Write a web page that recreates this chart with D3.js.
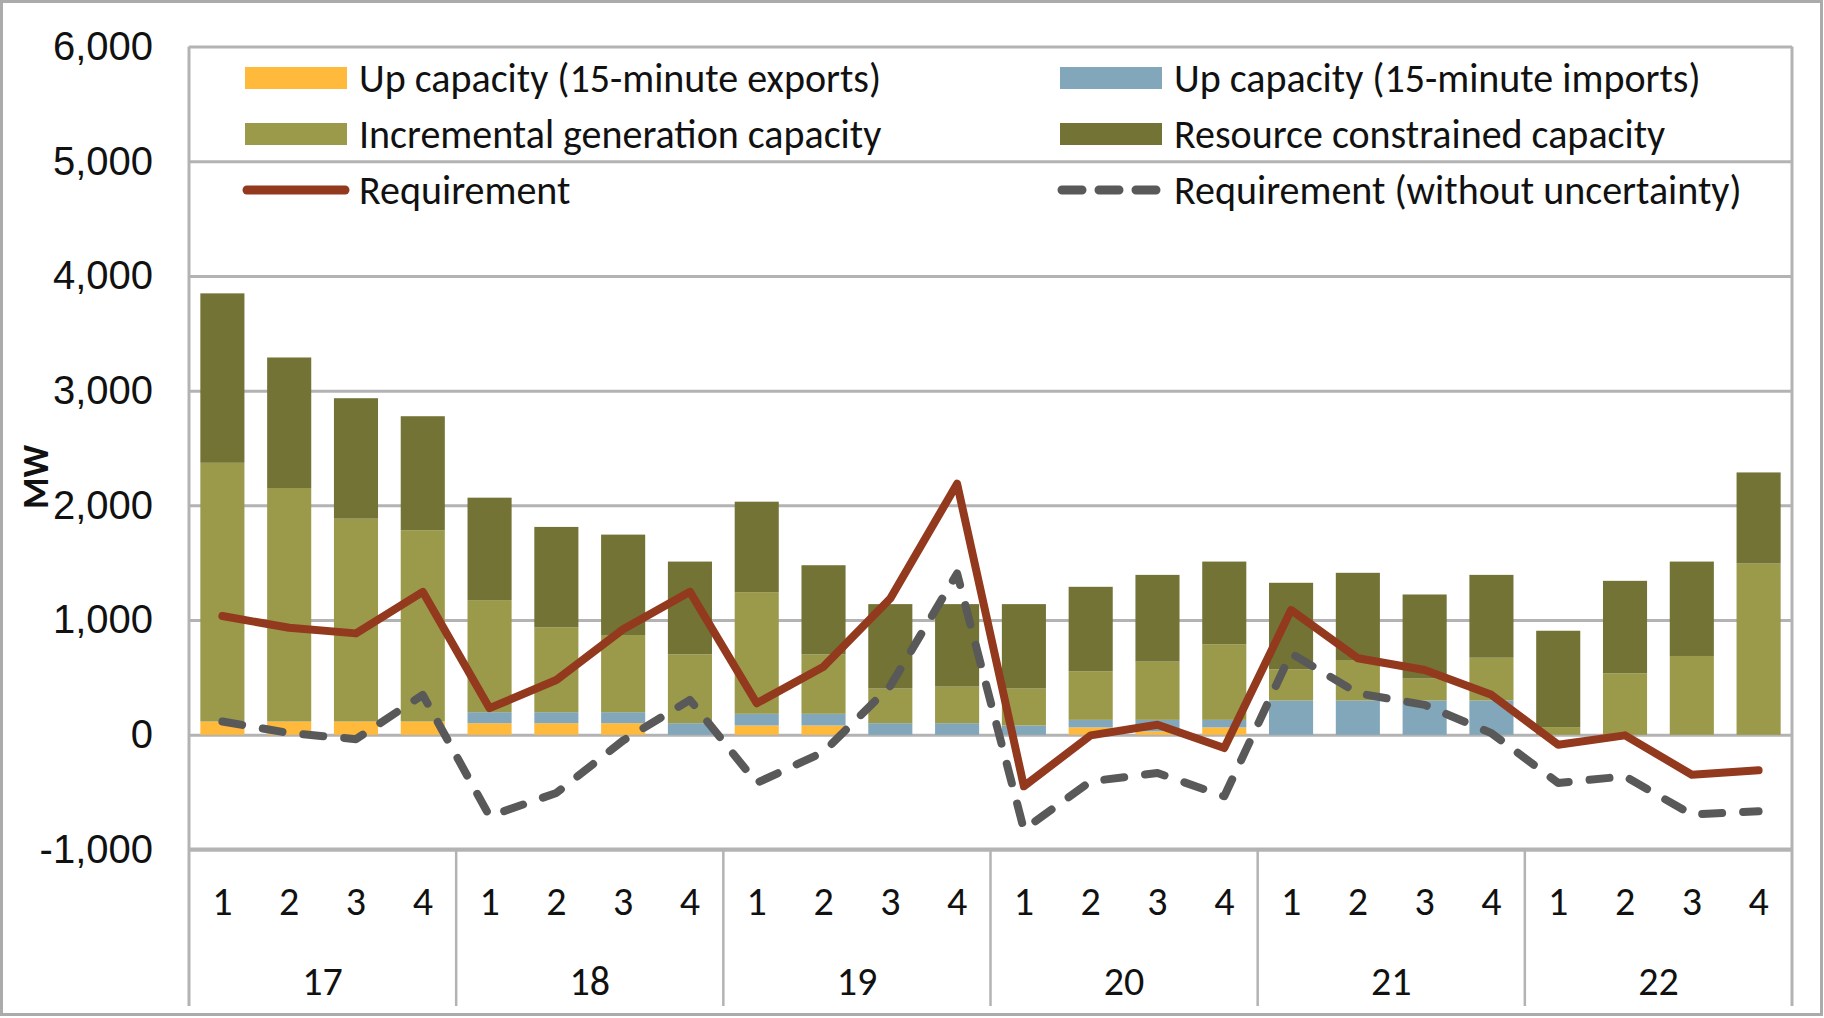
<!DOCTYPE html>
<html>
<head>
<meta charset="utf-8">
<script src="https://cdn.jsdelivr.net/npm/d3@7"></script>
<style>
  body { margin: 0; background: #fff; }
  svg { display: block; font-family: Carlito, "Liberation Sans Narrow", "DejaVu Sans Condensed", "Open Sans", sans-serif; }
</style>
</head>
<body>
<svg id="chart"></svg>
<script>
// quarters and years on the category axis
const years = ["17", "18", "19", "20", "21", "22"];
const quarters = ["1", "2", "3", "4"];

// stacked bar series (MW)
const exports15 = [116, 116, 116, 116, 101, 101, 101, 0, 81, 81, 0, 0, 0, 64, 30, 64, 0, 0, 0, 0, 0, 0, 0, 0];
const imports15 = [0, 0, 0, 0, 96, 96, 96, 101, 102, 102, 101, 101, 81, 66, 100, 66, 299, 299, 299, 299, 0, 0, 0, 0];
const incremental = [2255, 2035, 1768, 1667, 977, 739, 673, 600, 1060, 518, 302, 319, 322, 424, 508, 658, 272, 353, 191, 373, 67, 536, 687, 1493];
const constrained = [1477, 1138, 1050, 994, 893, 876, 875, 809, 789, 777, 736, 719, 736, 736, 756, 722, 754, 760, 733, 722, 840, 806, 823, 794];

// line series (MW)
const requirement = [1035, 933, 884, 1246, 232, 478, 920, 1246, 275, 594, 1188, 2188, -449, -5, 87, -116, 1087, 667, 565, 348, -87, -5, -348, -310];
const reqNoUncert = [116, 15, -38, 348, -710, -507, -50, 304, -420, -150, 426, 1406, -826, -406, -333, -536, 710, 362, 261, 14, -420, -362, -696, -667];

const yTicks = [-1000, 0, 1000, 2000, 3000, 4000, 5000, 6000];

const width = 1824, height = 1018;
const margin = { top: 46.5, right: 32, bottom: 168.5, left: 189 };

const svg = d3.select("#chart")
    .attr("width", width)
    .attr("height", height);

// outer frame
svg.append("rect")
    .attr("x", 1.5).attr("y", 1.5)
    .attr("width", width - 4).attr("height", height - 5)
    .attr("fill", "none")
    .attr("stroke", "#ababab")
    .attr("stroke-width", 3);

const cats = [];
years.forEach(yr => quarters.forEach(q => cats.push(yr + "-" + q)));

const rows = cats.map((c, i) => ({
    cat: c,
    exp: exports15[i],
    imp: imports15[i],
    inc: incremental[i],
    res: constrained[i]
}));

const x = d3.scaleBand()
    .domain(cats)
    .range([margin.left, width - margin.right])
    .paddingInner(0.34)
    .paddingOuter(0.17);

const xYear = d3.scaleBand()
    .domain(years)
    .range([margin.left, width - margin.right]);

const y = d3.scaleLinear()
    .domain([-1000, 6000])
    .range([height - margin.bottom, margin.top]);

const colour = d3.scaleOrdinal()
    .domain(["exp", "imp", "inc", "res"])
    .range(["#ffb93b", "#82a7ba", "#9a9a4a", "#727335"]);

// gridlines + y labels
const fmt = d => d3.format(",")(d).replace("\u2212", "-");
const yAxis = g => g
    .attr("transform", `translate(${margin.left},0)`)
    .call(d3.axisLeft(y).tickValues(yTicks).tickFormat(fmt)
        .tickSize(-(width - margin.left - margin.right)).tickPadding(36))
    .call(g => g.select(".domain").remove())
    .call(g => g.selectAll(".tick line").attr("stroke", "#b3b3b3").attr("stroke-width", 3))
    .call(g => g.selectAll(".tick text")
        .attr("fill", "#111")
        .attr("font-size", 40)
        .attr("font-family", null));

svg.append("g").call(yAxis);

// plot frame sides
svg.append("g")
    .selectAll("line")
    .data([margin.left, width - margin.right])
    .join("line")
    .attr("x1", d => d).attr("x2", d => d)
    .attr("y1", margin.top).attr("y2", 1006)
    .attr("stroke", "#b3b3b3")
    .attr("stroke-width", 3);

// stacked bars
const stack = d3.stack().keys(["exp", "imp", "inc", "res"]);
const series = stack(rows);

svg.append("g")
    .selectAll("g")
    .data(series)
    .join("g")
    .attr("fill", d => colour(d.key))
    .selectAll("rect")
    .data(d => d)
    .join("rect")
    .attr("x", d => x(d.data.cat))
    .attr("width", x.bandwidth())
    .attr("y", d => y(d[1]))
    .attr("height", d => Math.max(0, y(d[0]) - y(d[1])));

// -1000 baseline sits over the bars' area like Excel's axis
svg.append("line")
    .attr("x1", margin.left).attr("x2", width - margin.right)
    .attr("y1", y(-1000)).attr("y2", y(-1000))
    .attr("stroke", "#b3b3b3")
    .attr("stroke-width", 4);

// lines
const line = d3.line()
    .x((d, i) => x(cats[i]) + x.bandwidth() / 2)
    .y(d => y(d));

svg.append("path")
    .datum(reqNoUncert)
    .attr("fill", "none")
    .attr("stroke", "#595959")
    .attr("stroke-width", 8)
    .attr("stroke-dasharray", "20,21")
    .attr("stroke-linecap", "round")
    .attr("stroke-linejoin", "round")
    .attr("d", line);

svg.append("path")
    .datum(requirement)
    .attr("fill", "none")
    .attr("stroke", "#93391e")
    .attr("stroke-width", 8)
    .attr("stroke-linecap", "round")
    .attr("stroke-linejoin", "round")
    .attr("d", line);

// category axis: quarter labels, year labels and separators
const catAxis = svg.append("g").attr("fill", "#111");

catAxis.selectAll(".q")
    .data(cats)
    .join("text")
    .attr("class", "q")
    .attr("x", d => x(d) + x.bandwidth() / 2)
    .attr("y", 901)
    .attr("dy", "0.35em")
    .attr("text-anchor", "middle")
    .attr("font-size", 40)
    .text(d => d.split("-")[1]);

catAxis.selectAll(".yr")
    .data(years)
    .join("text")
    .attr("class", "yr")
    .attr("x", d => xYear(d) + xYear.bandwidth() / 2)
    .attr("y", 981)
    .attr("dy", "0.35em")
    .attr("text-anchor", "middle")
    .attr("font-size", 40)
    .text(d => d);

svg.append("g")
    .selectAll("line")
    .data(years.slice(1))
    .join("line")
    .attr("x1", d => xYear(d)).attr("x2", d => xYear(d))
    .attr("y1", y(-1000)).attr("y2", 1006)
    .attr("stroke", "#b3b3b3")
    .attr("stroke-width", 2.5);

// y axis title
svg.append("text")
    .attr("transform", "translate(35,477) rotate(-90)")
    .attr("dy", "0.35em")
    .attr("text-anchor", "middle")
    .attr("font-size", 36)
    .attr("font-weight", "bold")
    .attr("fill", "#111")
    .text("MW");

// legend
const legendItems = [
    { label: "Up capacity (15-minute exports)", type: "rect", color: colour("exp"), x: 245, y: 78 },
    { label: "Up capacity (15-minute imports)", type: "rect", color: colour("imp"), x: 1060, y: 78 },
    { label: "Incremental generation capacity", type: "rect", color: colour("inc"), x: 245, y: 134 },
    { label: "Resource constrained capacity", type: "rect", color: colour("res"), x: 1060, y: 134 },
    { label: "Requirement", type: "line", color: "#93391e", x: 245, y: 190 },
    { label: "Requirement (without uncertainty)", type: "dash", color: "#595959", x: 1060, y: 190 }
];

const legend = svg.append("g")
    .selectAll("g")
    .data(legendItems)
    .join("g")
    .attr("transform", d => `translate(${d.x},${d.y})`);

legend.filter(d => d.type === "rect")
    .append("rect")
    .attr("x", 0).attr("y", -11)
    .attr("width", 102).attr("height", 22)
    .attr("fill", d => d.color);

legend.filter(d => d.type !== "rect")
    .append("line")
    .attr("x1", 2).attr("x2", 100)
    .attr("stroke", d => d.color)
    .attr("stroke-width", 9)
    .attr("stroke-linecap", "round")
    .attr("stroke-dasharray", d => d.type === "dash" ? "20,17" : null);

legend.append("text")
    .attr("x", 114)
    .attr("dy", "0.35em")
    .attr("font-size", 40)
    .attr("fill", "#111")
    .text(d => d.label);
</script>
</body>
</html>
